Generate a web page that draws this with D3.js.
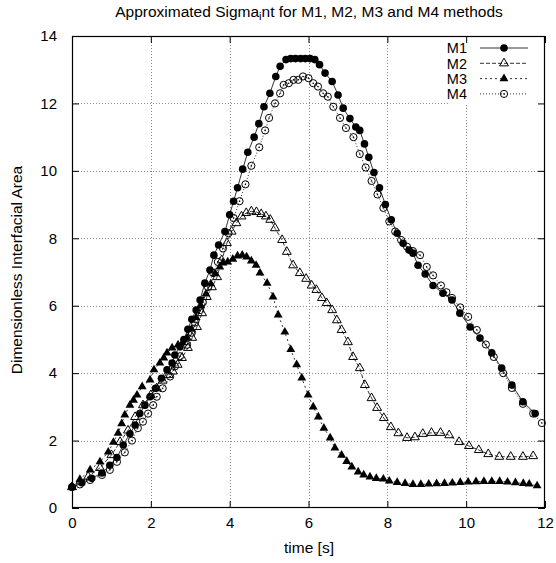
<!DOCTYPE html>
<html>
<head>
<meta charset="utf-8">
<script src="https://cdn.jsdelivr.net/npm/d3@7"></script>
<style>
  html, body { margin: 0; padding: 0; background: #fff; }
  svg { display: block; font-family: "Liberation Sans", Arial, Helvetica, sans-serif; }
</style>
</head>
<body>
<svg id="chart" width="556" height="563"></svg>
<script>
// ---------- data ----------
const xTicks = [0, 2, 4, 6, 8, 10, 12];
const yTicks = [0, 2, 4, 6, 8, 10, 12, 14];
const seriesNames = ["M1", "M2", "M3", "M4"];

const m1Time = [0.00,0.25,0.50,0.76,0.96,1.14,1.30,1.47,1.60,1.72,1.85,1.98,2.12,2.27,2.41,2.54,2.61,2.74,2.84,2.94,3.04,3.15,3.25,3.37,3.50,3.60,3.72,3.88,4.00,4.10,4.20,4.33,4.46,4.62,4.74,4.87,5.02,5.17,5.28,5.43,5.55,5.67,5.80,5.92,6.04,6.16,6.28,6.42,6.60,6.75,6.88,7.05,7.20,7.30,7.42,7.53,7.66,7.80,7.95,8.10,8.25,8.40,8.55,8.65,8.78,8.96,9.16,9.41,9.64,9.84,10.10,10.35,10.65,10.90,11.16,11.44,11.75];
const m1Value = [0.62,0.75,0.88,1.04,1.27,1.50,1.87,2.20,2.46,2.80,3.05,3.30,3.55,3.85,4.10,4.30,4.54,4.78,5.00,5.30,5.60,5.87,6.17,6.67,7.06,7.50,7.80,8.20,8.70,9.10,9.50,10.05,10.55,11.00,11.40,11.90,12.30,12.80,13.10,13.30,13.33,13.33,13.33,13.33,13.33,13.30,13.15,12.90,12.65,12.25,11.86,11.55,11.30,11.20,10.80,10.40,9.95,9.50,9.00,8.55,8.15,7.85,7.65,7.56,7.20,6.94,6.60,6.37,6.17,5.78,5.37,5.04,4.60,4.15,3.65,3.15,2.80];

const m2Time = [0.00,0.41,0.71,1.00,1.22,1.42,1.60,1.80,2.00,2.15,2.30,2.45,2.56,2.68,2.79,2.94,3.05,3.17,3.30,3.42,3.55,3.68,3.80,3.93,4.05,4.17,4.30,4.42,4.55,4.68,4.80,4.92,5.03,5.15,5.33,5.45,5.61,5.78,5.94,6.08,6.20,6.34,6.46,6.60,6.72,6.84,7.00,7.13,7.30,7.43,7.60,7.74,7.91,8.09,8.28,8.50,8.70,8.90,9.12,9.35,9.57,9.82,10.07,10.32,10.56,10.84,11.13,11.44,11.70];
const m2Value = [0.62,0.93,1.19,1.57,1.96,2.30,2.70,3.05,3.35,3.55,3.78,3.95,4.05,4.25,4.45,4.75,5.05,5.37,5.78,6.26,6.55,6.85,7.35,7.86,8.20,8.45,8.65,8.75,8.80,8.78,8.72,8.65,8.55,8.30,7.95,7.60,7.20,6.97,6.80,6.60,6.47,6.23,6.08,5.87,5.57,5.28,4.92,4.48,4.15,3.65,3.26,2.97,2.67,2.40,2.22,2.08,2.10,2.20,2.23,2.23,2.16,1.96,1.84,1.72,1.60,1.52,1.52,1.52,1.54];

const m3Time = [0.00,0.20,0.46,0.71,0.92,1.05,1.17,1.26,1.34,1.47,1.56,1.65,1.78,1.98,2.08,2.23,2.33,2.41,2.54,2.69,2.80,2.92,3.03,3.15,3.27,3.40,3.52,3.63,3.75,3.83,3.95,4.08,4.20,4.32,4.43,4.55,4.67,4.77,4.95,5.10,5.23,5.40,5.55,5.70,5.83,5.99,6.12,6.25,6.39,6.55,6.67,6.84,6.97,7.10,7.26,7.40,7.56,7.72,7.90,8.05,8.25,8.45,8.65,8.85,9.05,9.25,9.45,9.65,9.85,10.05,10.25,10.45,10.65,10.85,11.05,11.25,11.45,11.60,11.80];
const m3Value = [0.62,0.85,1.13,1.37,1.66,1.95,2.22,2.50,2.76,3.05,3.20,3.35,3.60,3.80,4.10,4.30,4.45,4.60,4.75,4.84,4.90,5.05,5.30,5.65,6.00,6.35,6.65,6.95,7.15,7.27,7.30,7.38,7.48,7.50,7.45,7.33,7.20,6.97,6.67,6.26,5.73,5.22,4.70,4.25,3.86,3.35,3.00,2.70,2.37,2.08,1.78,1.57,1.38,1.22,1.07,0.98,0.92,0.88,0.86,0.80,0.76,0.73,0.70,0.70,0.71,0.72,0.73,0.74,0.76,0.77,0.78,0.79,0.79,0.79,0.77,0.75,0.73,0.71,0.66];

const m4Time = [0.00,0.20,0.46,0.76,0.96,1.14,1.34,1.52,1.67,1.80,1.93,2.06,2.15,2.30,2.49,2.61,2.74,2.92,3.04,3.12,3.25,3.32,3.45,3.58,3.70,3.83,3.97,4.10,4.25,4.40,4.55,4.75,4.90,5.00,5.15,5.28,5.37,5.50,5.62,5.74,5.86,6.00,6.12,6.24,6.37,6.49,6.63,6.80,6.95,7.14,7.30,7.45,7.60,7.75,7.90,8.05,8.20,8.35,8.50,8.65,8.83,9.00,9.16,9.36,9.50,9.64,9.85,10.05,10.27,10.50,10.70,10.94,11.16,11.44,11.70,11.92];
const m4Value = [0.62,0.70,0.83,0.98,1.13,1.37,1.65,2.00,2.37,2.56,2.80,3.05,3.30,3.55,3.90,4.20,4.50,4.84,5.20,5.50,5.87,6.10,6.55,6.97,7.30,7.70,8.15,8.60,9.10,9.60,10.15,10.70,11.20,11.57,12.00,12.30,12.55,12.60,12.70,12.70,12.80,12.75,12.60,12.50,12.30,12.20,11.90,11.57,11.27,11.00,10.50,10.10,9.70,9.30,8.90,8.50,8.20,7.95,7.75,7.62,7.50,7.15,6.90,6.60,6.40,6.23,5.95,5.67,5.28,4.85,4.48,4.00,3.56,3.09,2.80,2.52];

// ---------- layout ----------
const svg = d3.select("#chart");
const L = 72, R = 545, T = 36, B = 508;
const x = d3.scaleLinear().domain([0, 12]).range([L, R]);
const y = d3.scaleLinear().domain([0, 14]).range([B, T]);

// grid
const grid = svg.append("g").attr("stroke", "#8a8a8a").attr("stroke-width", 1)
  .attr("stroke-dasharray", "1,2");
grid.selectAll("line.gx").data(xTicks.slice(1, -1)).join("line")
  .attr("x1", d => Math.round(x(d)) + 0.5).attr("x2", d => Math.round(x(d)) + 0.5)
  .attr("y1", T).attr("y2", B);
grid.selectAll("line.gy").data(yTicks.slice(1, -1)).join("line")
  .attr("y1", d => Math.round(y(d)) + 0.5).attr("y2", d => Math.round(y(d)) + 0.5)
  .attr("x1", L).attr("x2", R);

// legend background (gnuplot key masks grid)
svg.append("rect").attr("x", 448).attr("y", T + 1).attr("width", R - 448 - 1).attr("height", 67)
  .attr("fill", "#fff");

// axes
const fs = 15;
const ax = svg.append("g");
ax.append("g").attr("transform", `translate(0,${B})`)
  .call(d3.axisBottom(x).tickValues(xTicks).tickSize(-7).tickSizeOuter(0).tickPadding(9));
ax.append("g").attr("transform", `translate(${L},0)`)
  .call(d3.axisLeft(y).tickValues(yTicks).tickSize(-7).tickSizeOuter(0).tickPadding(15));
ax.append("g").attr("transform", `translate(0,${T})`)
  .call(d3.axisTop(x).tickValues(xTicks).tickSize(-7).tickSizeOuter(0).tickFormat(""));
ax.append("g").attr("transform", `translate(${R},0)`)
  .call(d3.axisRight(y).tickValues(yTicks).tickSize(-7).tickSizeOuter(0).tickFormat(""));
ax.selectAll(".domain").remove();
ax.selectAll(".tick line").attr("stroke", "#000");
ax.selectAll("g").attr("font-size", null).attr("font-family", null);
ax.selectAll("text").attr("fill", "#000").attr("font-size", fs)
  .style("font-family", "Liberation Sans, Arial, sans-serif");

// frame
svg.append("rect").attr("x", L + 0.5).attr("y", T + 0.5).attr("width", R - L - 1).attr("height", B - T - 1)
  .attr("fill", "none").attr("stroke", "#000").attr("stroke-width", 1.2);

// ---------- series ----------
const series = [
  { name: seriesNames[0], t: m1Time, v: m1Value, dash: null, marker: "fcircle" },
  { name: seriesNames[1], t: m2Time, v: m2Value, dash: "4,2", marker: "otri" },
  { name: seriesNames[2], t: m3Time, v: m3Value, dash: "2,3", marker: "ftri" },
  { name: seriesNames[3], t: m4Time, v: m4Value, dash: "1,2", marker: "ocircle" }
];

const tri = d3.symbol().type(d3.symbolTriangle).size(34)();
function drawMarker(g, kind) {
  if (kind === "fcircle") g.append("circle").attr("r", 3.8).attr("fill", "#000");
  else if (kind === "ocircle") {
    g.append("circle").attr("r", 3.6).attr("fill", "none").attr("stroke", "#000").attr("stroke-width", 1);
    g.append("circle").attr("r", 0.8).attr("fill", "#000");
  }
  else if (kind === "otri") g.append("path").attr("d", tri).attr("fill", "none").attr("stroke", "#000").attr("stroke-width", 1);
  else if (kind === "ftri") g.append("path").attr("d", tri).attr("fill", "#000");
}

const line = d3.line().x(d => x(d[0])).y(d => y(d[1]));
series.forEach(s => {
  const pts = s.t.map((t, i) => [t, s.v[i]]);
  const g = svg.append("g");
  g.append("path").datum(pts).attr("d", line).attr("fill", "none")
    .attr("stroke", "#333").attr("stroke-width", 1)
    .attr("stroke-dasharray", s.dash);
  g.selectAll("g.m").data(pts).join("g")
    .attr("transform", d => `translate(${x(d[0])},${y(d[1])})`)
    .each(function () { drawMarker(d3.select(this), s.marker); });
});

// ---------- legend ----------
const leg = svg.append("g").attr("font-size", 14.5);
series.forEach((s, i) => {
  const yy = 48 + i * 15.3;
  leg.append("text").attr("x", 467).attr("y", yy).attr("dy", "0.36em")
    .attr("text-anchor", "end").attr("fill", "#000").text(s.name);
  leg.append("line").attr("x1", 480).attr("x2", 528).attr("y1", yy).attr("y2", yy)
    .attr("stroke", "#333").attr("stroke-width", 1).attr("stroke-dasharray", s.dash);
  const mg = leg.append("g").attr("transform", `translate(504,${yy})`);
  drawMarker(mg, s.marker);
});

// ---------- titles ----------
const titleText = svg.append("text").attr("x", 309).attr("y", 17).attr("text-anchor", "middle")
  .attr("font-size", 15.5).attr("fill", "#000");
titleText.append("tspan").text("Approximated Sigma");
titleText.append("tspan").attr("font-size", 11).attr("dy", 3).text("i");
titleText.append("tspan").attr("dy", -3).text("nt for M1, M2, M3 and M4 methods");

svg.append("text").attr("x", 309).attr("y", 553).attr("text-anchor", "middle")
  .attr("font-size", 15.5).attr("fill", "#000").text("time [s]");

svg.append("text").attr("transform", `translate(22,270) rotate(-90)`).attr("text-anchor", "middle")
  .attr("font-size", 15.5).attr("fill", "#000").text("Dimensionless Interfacial Area");
</script>
</body>
</html>
